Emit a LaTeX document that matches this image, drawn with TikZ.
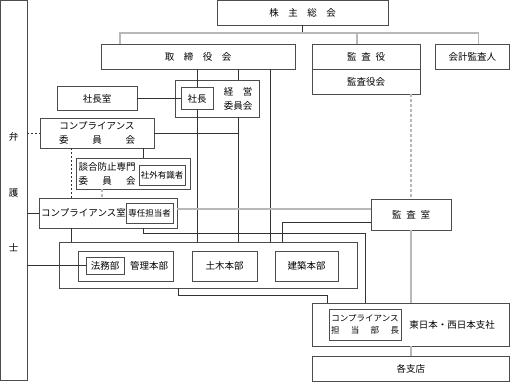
\documentclass[tikz,border=0pt]{standalone}
\usepackage{fontspec}
\setmainfont{Noto Sans CJK JP}
\usetikzlibrary{positioning}

\begin{document}
\begin{tikzpicture}[x=1pt, y=-1pt, every node/.style={font=\fontsize{9.5}{14}\selectfont},
  sz/.style 2 args={minimum width=#1pt, minimum height=#2pt},
  blk/.style={draw=black!70, line width=0.6pt, inner sep=0pt, align=center},
  sm/.style={font=\fontsize{8.5}{12}\selectfont},
  ln/.style={draw=black!80, line width=0.6pt},
  gl/.style={draw=black!28, line width=1.3pt},
  dl/.style={ln, dash pattern=on 2pt off 2pt},
  gdl/.style={gl, dash pattern=on 3pt off 2pt}]
\useasboundingbox (0,0) rectangle (510,382);
% top level
\node[blk, sz={171}{24.5}] (soukai) at (302.5,12.75) {株　主　総　会};
\node[blk, sz={194}{25}] (torishimari) at (198,56.5) {取　締　役　会};
\node[blk, sz={108}{25}] (kansayaku) at (366,56.5) {監\enspace 査\enspace 役};
\node[blk, sz={108}{25}] (kansakai) at (366,81.5) {監査役会};
\node[blk, sz={74.5}{25}] (kaikei) at (472.25,56.5) {会計監査人};
% lawyer column
\node[blk, sz={26.5}{379.5}] (bengoshi) at (13.75,190.25) {};
\node (b1) at (13.75,137) {弁};
\node (b2) at (13.75,193) {護};
\node (b3) at (13.75,248) {士};
% president / management committee
\node[blk, sz={80}{24}] (shachoshitsu) at (97,98.5) {社長室};
\node[blk, sz={84}{37}] (keiei) at (217,98.5) {};
\node[blk, sz={32}{22}] (shacho) at (197,98.5) {社長};
\node[align=center, inner sep=0pt] (keieitxt) at (238,98.5) {\makebox[28.5pt]{経\hfill 営}\\委員会};
% compliance
\node[blk, sz={114}{30}] (compiinkai) at (97,133) {コンプライアンス\\\makebox[76pt]{委\hfill 員\hfill 会}};
\node[blk, sz={114}{31}] (dango) at (133,173.5) {};
\node[align=left, inner sep=0pt] (dangotxt) at (107,173.5) {談合防止専門\\\makebox[57pt]{委\hfill 員\hfill 会}};
\node[blk, sm, sz={46}{20}] (shagai) at (162,175) {社外有識者};
\node[blk, sz={138}{30}] (compshitsu) at (108,213) {};
\node[anchor=west, inner sep=0pt] (comptxt) at (41,213) {コンプライアンス室};
\node[blk, sm, sz={47}{20}] (sennin) at (149.5,213) {専任担当者};
\node[blk, sz={80}{31}] (kansashitsu) at (411,214.5) {監\enspace 査\enspace 室};
% head offices
\node[blk, sz={298}{46}] (group) at (208,265) {};
\node[blk, sz={95}{30}] (kanri) at (125.5,266) {};
\node[blk, sz={38}{17}] (houmu) at (105,265.5) {法務部};
\node (kanritxt) at (149,266) {管理本部};
\node[blk, sz={65}{30}] (doboku) at (224.5,266) {土木本部};
\node[blk, sz={63}{30}] (kenchiku) at (306.5,266) {建築本部};
% branches
\node[blk, sz={197.5}{43}] (shisha) at (410.75,324.5) {};
\node[blk, sm, sz={72}{31}] (tanto) at (365,324.5) {コンプライアンス\\\makebox[68pt]{担\hfill 当\hfill 部\hfill 長}};
\node (shishatxt) at (452,324.5) {東日本・西日本支社};
\node[blk, sz={197.5}{25}] (shiten) at (410.75,368.5) {各支店};
% connectors
\coordinate (bus) at (302.5,33);
\draw[ln] (soukai) -- (bus);
\draw[gl] (torishimari.north -| 120,0) |- (bus) -| ([xshift=6pt]kaikei.north);
\draw[gl] (bus) -| ([xshift=-9pt]kansayaku.north);
\draw[ln] (torishimari.south -| shacho) -- (shacho);
\draw[ln] (shacho) -- (shacho |- group.north);
\draw[ln] (torishimari.south -| 238,0) -- (keiei.north -| 238,0);
\draw[ln] (keiei.south -| 238,0) -- (group.north -| 238,0);
\draw[ln] (torishimari.south -| 270,0) -- (group.north -| 270,0);
\draw[ln] (shachoshitsu) -- (shacho);
\draw[ln] (compiinkai.east) -- (compiinkai.east -| 238,0);
\draw[dl] (bengoshi.east |- compiinkai) -- (compiinkai);
\draw[ln] (compiinkai.south -| 143,0) -- (dango.north -| 143,0);
\draw[dl] (compiinkai.south -| 71,0) -- (compshitsu.north -| 71,0);
\draw[gdl] (dango.south -| 102,0) -- (compshitsu.north -| 102,0);
\draw[ln] (bengoshi.east |- compshitsu) -- (compshitsu);
\draw[ln] (compshitsu.south -| 71,0) -- (group.north -| 71,0);
\draw[gl] (compshitsu.east |- 0,209) -- (kansashitsu.west |- 0,209);
\draw[ln] (kansashitsu.west |- 0,222) -| (group.north -| 282,0);
\draw[gdl] (kansakai.south -| kansashitsu) -- (kansashitsu);
\draw[gl] (kansashitsu) -- (shisha.north -| kansashitsu);
\draw[gl] (shisha.south -| kansashitsu) -- (shiten.north -| kansashitsu);
\draw[ln] (compshitsu.south -| 143,0) -- ++(0,5) -| (shisha.north -| tanto);
\draw[ln] (group.south -| 178,0) -- ++(0,7) -| (shisha.north -| 327,0);
\draw[ln] (bengoshi.east |- houmu) -- (houmu);
\end{tikzpicture}
\end{document}
